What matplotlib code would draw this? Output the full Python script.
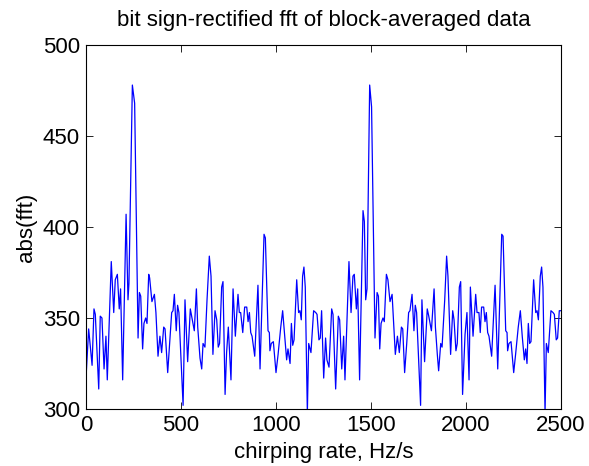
import matplotlib
matplotlib.use("Agg")
import matplotlib.pyplot as plt

# chirping rate (Hz/s) and abs(fft) values
rate = [0, 14, 32, 42, 49, 67, 75, 84, 95, 105, 112, 133, 146, 154, 165, 175,
        182, 193, 211, 221, 226, 244, 256, 274, 281, 288, 298, 305, 314, 321,
        330, 335, 347, 360, 368, 379, 389, 398, 409, 416, 430, 440, 451, 458,
        465, 475, 482, 489, 511, 521, 535, 549, 556, 570, 581, 588, 600, 609,
        616, 626, 637, 649, 658, 668, 679, 688, 696, 703, 714, 721, 732, 740,
        749, 763, 774, 786, 800, 807, 814, 825, 835, 846, 853, 860, 867, 874,
        888, 905, 916, 937, 944, 958, 965, 968, 975, 986, 1000, 1011, 1025,
        1035, 1046, 1056, 1063, 1074, 1081, 1088, 1095, 1109, 1119, 1126, 1133,
        1140, 1147, 1154, 1165, 1172, 1184, 1198, 1209, 1216, 1226, 1233, 1240,
        1251, 1261, 1268, 1279, 1293, 1300, 1314, 1328, 1335, 1346, 1356, 1363,
        1384, 1395, 1405, 1412, 1423, 1430, 1440, 1458, 1465, 1472, 1479, 1493,
        1503, 1521, 1532, 1539, 1546, 1553, 1563, 1570, 1581, 1589, 1600, 1611,
        1628, 1639, 1649, 1660, 1667, 1677, 1688, 1698, 1705, 1716, 1726, 1733,
        1740, 1761, 1768, 1782, 1796, 1804, 1818, 1832, 1839, 1849, 1856, 1867,
        1874, 1888, 1898, 1905, 1919, 1930, 1937, 1947, 1954, 1965, 1972, 1982,
        1995, 2005, 2016, 2023, 2037, 2051, 2058, 2068, 2075, 2082, 2093, 2100,
        2107, 2114, 2121, 2135, 2153, 2167, 2188, 2195, 2209, 2216, 2219, 2226,
        2237, 2251, 2261, 2275, 2286, 2296, 2307, 2314, 2321, 2328, 2335, 2342,
        2356, 2367, 2374, 2381, 2391, 2398, 2405, 2416, 2423, 2433, 2447, 2458,
        2465, 2475, 2482, 2491, 2500]
absfft = [317, 344, 324, 355, 352, 311, 351, 350, 322, 340, 316, 381, 353, 371,
          374, 355, 366, 316, 407, 360, 369, 478, 468, 339, 364, 362, 333, 347,
          350, 347, 374, 372, 359, 363, 353, 329, 340, 331, 345, 344, 320, 336,
          353, 354, 363, 343, 357, 353, 302, 360, 326, 355, 351, 343, 366, 345,
          328, 322, 336, 334, 360, 384, 373, 330, 354, 349, 334, 336, 367, 370,
          308, 331, 345, 316, 366, 340, 363, 353, 353, 342, 356, 356, 348, 353,
          342, 340, 329, 368, 322, 396, 394, 343, 342, 332, 336, 337, 320, 330,
          345, 354, 340, 327, 333, 325, 347, 335, 338, 371, 353, 354, 349, 373,
          378, 367, 298, 336, 331, 354, 353, 352, 338, 339, 354, 317, 339, 327,
          323, 355, 352, 311, 351, 349, 322, 340, 316, 381, 353, 373, 374, 355,
          366, 316, 409, 403, 360, 366, 478, 466, 339, 364, 362, 333, 347, 350,
          348, 374, 371, 359, 363, 330, 340, 331, 345, 344, 320, 336, 353, 354,
          363, 343, 357, 353, 302, 360, 326, 355, 351, 343, 366, 345, 330, 321,
          336, 334, 360, 384, 373, 330, 354, 349, 332, 336, 367, 370, 308, 341,
          353, 316, 367, 340, 363, 353, 353, 342, 356, 356, 348, 353, 342, 340,
          329, 368, 322, 396, 395, 343, 342, 332, 336, 337, 320, 330, 345, 354,
          340, 327, 333, 325, 347, 336, 337, 371, 353, 354, 349, 373, 378, 367,
          298, 336, 331, 354, 353, 352, 338, 339, 354, 354]

xticks = [0, 500, 1000, 1500, 2000, 2500]
yticks = [300, 350, 400, 450, 500]

plt.rcParams['font.family'] = ['Liberation Sans', 'DejaVu Sans']

fig = plt.figure(figsize=(5.89, 4.66), dpi=100)
ax = fig.add_axes([86 / 589, 57 / 466, 475 / 589, 364 / 466])
ax.plot(rate, absfft, color=(0, 0, 1), linewidth=0.9)

ax.set_xlim(0, 2500)
ax.set_ylim(300, 500)
ax.set_xticks(xticks)
ax.set_yticks(yticks)
ax.tick_params(direction='in', top=True, right=True, length=5, width=0.6,
               labelsize=16, pad=4.5)
for s in ax.spines.values():
    s.set_linewidth(0.8)

ax.set_xlabel("chirping rate, Hz/s", fontsize=16, labelpad=4)
ax.set_ylabel("abs(fft)", fontsize=16, labelpad=4)
ax.set_title("bit sign-rectified fft of block-averaged data", fontsize=16, pad=14)

fig.savefig("out.png", dpi=100)
